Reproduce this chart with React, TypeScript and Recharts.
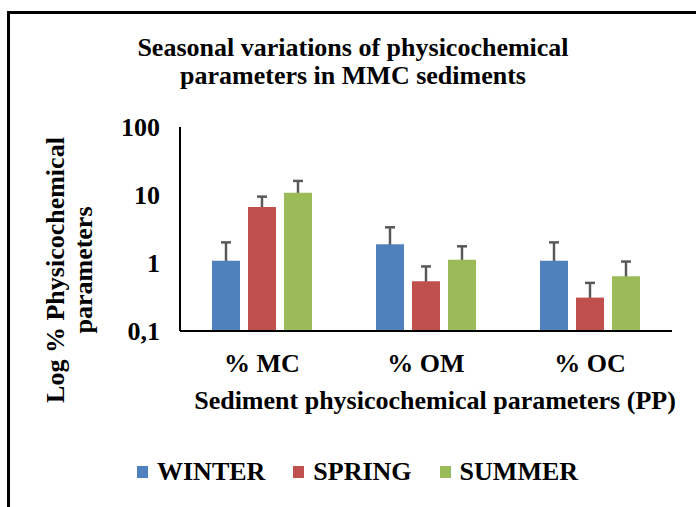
import React from 'react'
import { BarChart, Bar, XAxis, YAxis, ErrorBar, Legend } from 'recharts'

const categories = ['% MC', '% OM', '% OC']
const winter = [1.08, 1.88, 1.08]
const winterErr = [0.93, 1.47, 0.93]
const spring = [6.66, 0.54, 0.31]
const springErr = [2.8, 0.35, 0.2]
const summer = [10.8, 1.12, 0.64]
const summerErr = [5.3, 0.64, 0.41]
const yTicks = [0.1, 1, 10, 100]

const serif = '"Liberation Serif", "Times New Roman", serif'

const rows = categories.map((name, i) => ({
  name,
  winter: winter[i],
  winterErr: winterErr[i],
  spring: spring[i],
  springErr: springErr[i],
  summer: summer[i],
  summerErr: summerErr[i],
}))

const series = [
  { key: 'winter', label: 'WINTER', color: '#4F81BD' },
  { key: 'spring', label: 'SPRING', color: '#C0504D' },
  { key: 'summer', label: 'SUMMER', color: '#9BBB59' },
]
const labels = series.map((s) => s.label)

const bold: React.CSSProperties = {
  position: 'absolute',
  fontFamily: serif,
  fontWeight: 'bold',
  fontSize: 26,
  lineHeight: '28px',
  color: '#000',
  textAlign: 'center',
  whiteSpace: 'nowrap',
}

// keep only the visible series, in series order
function LegendRow({ payload }: any) {
  const items = (payload || [])
    .filter((p: any) => labels.includes(p.value))
    .sort((a: any, b: any) => labels.indexOf(a.value) - labels.indexOf(b.value))
  return (
    <div style={{ display: 'flex', alignItems: 'center', fontFamily: serif }}>
      {items.map((p: any) => (
        <div key={p.value} style={{ display: 'flex', alignItems: 'center', marginRight: 28 }}>
          <span style={{ width: 11, height: 12, background: p.color, marginRight: 9 }} />
          <span style={{ fontSize: 26, fontWeight: 'bold', lineHeight: '28px', color: '#000' }}>
            {p.value}
          </span>
        </div>
      ))}
    </div>
  )
}

export default function App() {
  return (
    <div style={{ position: 'absolute', left: 0, top: 0, width: 696, height: 507, overflow: 'hidden', background: '#fff' }}>
      <BarChart
        width={696}
        height={507}
        data={rows}
        margin={{ top: 127, right: 24, bottom: 136, left: 0 }}
        barSize={28}
        barGap={8}
      >
        <XAxis xAxisId="err" dataKey="name" hide height={0} />
        <XAxis
          xAxisId="main"
          dataKey="name"
          height={40}
          axisLine={{ stroke: '#000', strokeWidth: 2 }}
          tickLine={false}
          tickSize={0}
          tickMargin={23}
          tick={{ fill: '#000', fontSize: 26, fontWeight: 'bold', fontFamily: serif }}
        />
        <YAxis
          scale="log"
          domain={[0.1, 100]}
          ticks={yTicks}
          allowDataOverflow
          width={180}
          axisLine={{ stroke: '#000', strokeWidth: 2 }}
          tickLine={false}
          tickSize={0}
          tickMargin={20}
          tickFormatter={(v: number) => String(v).replace('.', ',')}
          tick={{ fill: '#000', fontSize: 26, fontWeight: 'bold', fontFamily: serif }}
        />
        <Legend
          layout="horizontal"
          verticalAlign="middle"
          align="center"
          content={<LegendRow />}
          wrapperStyle={{ top: 458, left: 137, width: 520 }}
        />
        {/* error whiskers sit behind the visible bars, so only the upper half shows */}
        {series.map((s) => (
          <Bar
            key={s.key + '-err'}
            xAxisId="err"
            dataKey={s.key}
            fill="transparent"
            legendType="none"
            isAnimationActive={false}
          >
            <ErrorBar
              dataKey={s.key + 'Err'}
              width={5}
              stroke="#595959"
              strokeWidth={2.5}
              direction="y"
              zIndex={250}
              isAnimationActive={false}
            />
          </Bar>
        ))}
        {series.map((s) => (
          <Bar
            key={s.key}
            xAxisId="main"
            dataKey={s.key}
            name={s.label}
            fill={s.color}
            isAnimationActive={false}
          />
        ))}
      </BarChart>

      <div style={{ ...bold, left: 0, top: 34, width: 706 }}>
        Seasonal variations of physicochemical
        <br />
        parameters in MMC sediments
      </div>
      <div style={{ ...bold, left: 135, top: 387, width: 600 }}>
        Sediment physicochemical parameters (PP)
      </div>
      <div
        style={{
          ...bold,
          left: 70 - 160,
          top: 270 - 28,
          width: 320,
          height: 56,
          transform: 'rotate(-90deg)',
          transformOrigin: 'center',
        }}
      >
        Log % Physicochemical
        <br />
        parameters
      </div>
      <div
        style={{
          position: 'absolute',
          left: 7,
          top: 11,
          width: 720,
          height: 520,
          border: '3px solid #000',
          pointerEvents: 'none',
        }}
      />
    </div>
  )
}
